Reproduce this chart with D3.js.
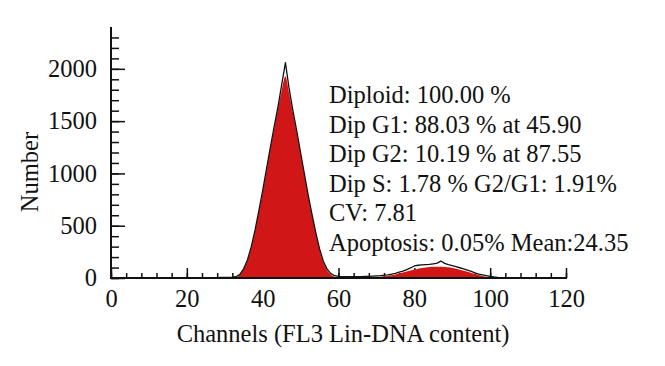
<!DOCTYPE html>
<html>
<head>
<meta charset="utf-8">
<script src="https://cdn.jsdelivr.net/npm/d3@7"></script>
<style>
  body { margin: 0; background: #fff; }
  svg text { font-family: "Liberation Serif", "DejaVu Serif", serif; fill: #111; }
</style>
</head>
<body>
<svg id="chart" width="665" height="366"></svg>
<script>
// channel numbers (FL3 Lin-DNA content)
var channels = d3.range(24, 105);
// modelled fit (red area), one value per channel
var fitCounts = [0,0,0,0,0,0,0,0,0,
  5,30,85,170,290,450,630,820,1025,1230,1420,1610,1790,1930,1760,1575,1390,1190,985,785,600,425,270,150,75,32,12,6,
  4,4,4,5,5,6,7,8,9,11,13,16,
  20,26,33,42,52,62,72,81,89,96,101,105,107,108,108,106,102,96,89,80,70,60,49,38,28,19,12,7,3,1,0,0];
// raw histogram (black outline)
var rawCounts = [0,0,0,0,3,5,6,6,8,
  12,35,90,175,300,460,645,835,1040,1245,1440,1630,1845,2060,1805,1595,1405,1200,995,795,610,435,280,160,85,42,22,15,
  12,12,13,12,14,13,15,16,18,20,22,26,
  30,36,45,56,66,80,96,115,122,126,128,130,136,142,162,140,128,118,108,98,88,76,63,50,38,30,22,16,10,6,3,0];

var xTicksMajor = [0, 20, 40, 60, 80, 100, 120];
var yTicksMajor = [0, 500, 1000, 1500, 2000];
var stats = [
  "Diploid: 100.00 %",
  "Dip G1: 88.03 % at 45.90",
  "Dip G2: 10.19 % at 87.55",
  "Dip S: 1.78 % G2/G1: 1.91%",
  "CV: 7.81",
  "Apoptosis: 0.05% Mean:24.35"
];

var svg = d3.select("#chart");
var fs = 24.5;
var serif = "'Liberation Serif', 'DejaVu Serif', serif";

var x = d3.scaleLinear().domain([0, 120]).range([111, 566]);
var y = d3.scaleLinear().domain([0, 2400]).range([278, 27]);

// minor ticks
svg.append("g")
  .attr("transform", "translate(0,278)")
  .call(d3.axisBottom(x).tickValues(d3.range(0, 121, 4)).tickSize(-5).tickFormat(""))
  .call(function(g){ g.select(".domain").remove(); g.selectAll("line").attr("stroke", "#111").attr("stroke-width", 1.5); });
svg.append("g")
  .attr("transform", "translate(111,0)")
  .call(d3.axisLeft(y).tickValues(d3.range(0, 2400, 100)).tickSize(-8).tickFormat(""))
  .call(function(g){ g.select(".domain").remove(); g.selectAll("line").attr("stroke", "#111").attr("stroke-width", 1.5); });

// major ticks with labels
var xa = svg.append("g")
  .attr("transform", "translate(0,278)")
  .call(d3.axisBottom(x).tickValues(xTicksMajor).tickSize(-10).tickPadding(12).tickFormat(d3.format("d")));
xa.attr("font-family", serif);
xa.select(".domain").remove();
xa.selectAll("line").attr("stroke", "#111").attr("stroke-width", 1.5);
xa.selectAll("text").style("font-size", fs + "px").attr("fill", "#111");

var ya = svg.append("g")
  .attr("transform", "translate(111,0)")
  .call(d3.axisLeft(y).tickValues(yTicksMajor).tickSize(-14).tickPadding(14).tickFormat(d3.format("d")));
ya.attr("font-family", serif);
ya.select(".domain").remove();
ya.selectAll("line").attr("stroke", "#111").attr("stroke-width", 1.5);
ya.selectAll("text").style("font-size", fs + "px").attr("fill", "#111");

// histogram
var fitData = channels.map(function(c, i){ return {c: c, v: fitCounts[i]}; });
var rawData = channels.map(function(c, i){ return {c: c, v: rawCounts[i]}; });

var area = d3.area()
  .x(function(d){ return x(d.c); })
  .y0(y(0))
  .y1(function(d){ return y(d.v); })
  .curve(d3.curveMonotoneX);
svg.append("path").datum(fitData)
  .attr("d", area)
  .attr("fill", "#d01616");

var line = d3.line()
  .x(function(d){ return x(d.c); })
  .y(function(d){ return y(d.v); });
svg.append("path").datum(rawData)
  .attr("d", line)
  .attr("fill", "none")
  .attr("stroke", "#111")
  .attr("stroke-width", 1.3)
  .attr("stroke-linejoin", "round");

// axis lines
svg.append("line").attr("x1", 111).attr("x2", 111).attr("y1", y(2400)).attr("y2", 279)
  .attr("stroke", "#111").attr("stroke-width", 2);
svg.append("line").attr("x1", 110).attr("x2", 567).attr("y1", 278).attr("y2", 278)
  .attr("stroke", "#111").attr("stroke-width", 2);

// axis titles
svg.append("text").attr("x", 343).attr("y", 342).attr("text-anchor", "middle")
  .style("font-size", fs + "px").text("Channels (FL3 Lin-DNA content)");
svg.append("text").attr("transform", "translate(38,172) rotate(-90)").attr("text-anchor", "middle")
  .style("font-size", fs + "px").text("Number");

// stats block
svg.append("g").selectAll("text").data(stats).enter().append("text")
  .attr("x", 329)
  .attr("y", function(d, i){ return 103 + i * 29.5; })
  .style("font-size", fs + "px")
  .text(function(d){ return d; });
</script>
</body>
</html>
